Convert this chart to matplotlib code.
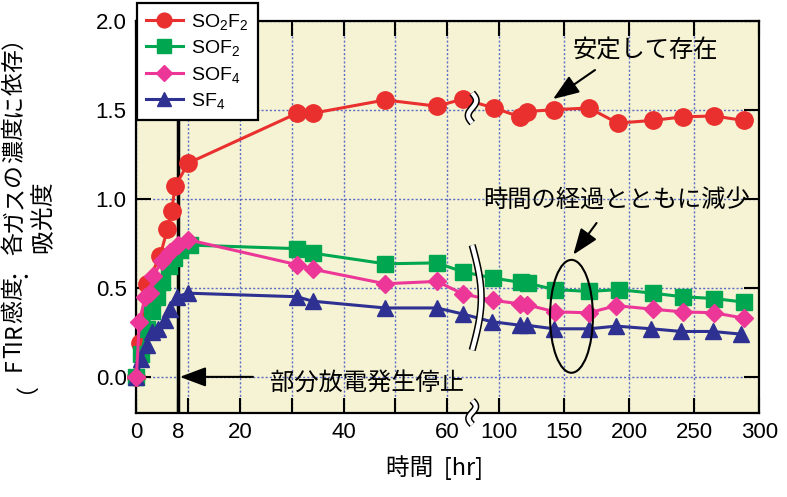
import numpy as np
import matplotlib.pyplot as plt
import matplotlib.transforms as mtransforms
from matplotlib.patches import Ellipse
from matplotlib.font_manager import FontProperties

plt.rcParams['font.family'] = ['Liberation Sans', 'Noto Sans CJK JP', 'DejaVu Sans']
plt.rcParams['mathtext.default'] = 'regular'
jp = 'Noto Sans CJK JP'

# データ（時間 [hr], 吸光度）
t_so2f2 = [0, 0.8, 2, 4.6, 6, 6.8, 7.5, 10, 31, 34, 48, 58, 63,
           96, 116, 121, 142, 169, 191, 218, 241, 265, 288]
a_so2f2 = [0, 0.19, 0.52, 0.68, 0.83, 0.93, 1.07, 1.20, 1.48, 1.48, 1.555, 1.52, 1.56,
           1.51, 1.46, 1.49, 1.50, 1.51, 1.425, 1.44, 1.46, 1.465, 1.44]

t_sof2 = [0, 1, 2, 3, 4, 5, 6.3, 7.2, 8.4, 10.4, 31, 34, 48, 58, 63,
          95, 117, 122, 143, 169, 192, 218, 241, 265, 288]
a_sof2 = [0, 0.13, 0.27, 0.37, 0.45, 0.53, 0.62, 0.67, 0.71, 0.74, 0.72, 0.695, 0.635, 0.64, 0.59,
          0.555, 0.53, 0.525, 0.49, 0.48, 0.49, 0.47, 0.45, 0.44, 0.42]

t_sof4 = [0, 0.6, 1.7, 2.6, 3.3, 4.9, 6.5, 8, 10, 31, 34, 48, 58, 63,
          95, 116, 121, 143, 169, 190, 218, 241, 265, 288]
a_sof4 = [0, 0.31, 0.45, 0.47, 0.565, 0.65, 0.70, 0.74, 0.77, 0.63, 0.605, 0.523, 0.536, 0.466,
          0.43, 0.41, 0.405, 0.365, 0.36, 0.40, 0.38, 0.365, 0.36, 0.33]

t_sf4 = [0, 1, 2, 3, 4.2, 5.5, 6.5, 7.8, 10, 31, 34, 48, 58, 63,
         94, 116, 121, 142, 169, 190, 217, 240, 264, 286]
a_sf4 = [0, 0.1, 0.18, 0.25, 0.27, 0.32, 0.38, 0.45, 0.47, 0.45, 0.425, 0.387, 0.387, 0.353,
         0.31, 0.29, 0.29, 0.27, 0.27, 0.285, 0.27, 0.255, 0.255, 0.24]

tick_pos = [0, 8, 10, 20, 30, 40, 50, 60, 100, 150, 200, 250, 300]
tick_lab = ['0', '8', '', '20', '', '40', '', '60', '100', '150', '200', '250', '300']

# 横軸: 0-65hr と 80-300hr を別の縮尺でつなぐ
XK = [-100, 0, 64.8, 79.3, 300, 500]
PK = [-518.3, 0, 335.9, 336.1, 623, 883]


def fwd(x):
    return np.interp(np.asarray(x, dtype=float), XK, PK)


def inv(p):
    return np.interp(np.asarray(p, dtype=float), PK, XK)


fig = plt.figure(figsize=(7.87, 4.97), dpi=100)
ax = fig.add_axes([136.3/787, 1-412.5/497, 623/787, 391.8/497])
ax.set_facecolor('#f5f3d3')
ax.set_xscale('function', functions=(fwd, inv))
ax.set_xlim(0, 300)
ax.set_ylim(-0.2, 2.0)

ax.set_xticks(tick_pos)
ax.set_xticklabels(tick_lab)
ax.set_yticks([0, 0.5, 1.0, 1.5, 2.0])
ax.set_yticklabels(['0.0', '0.5', '1.0', '1.5', '2.0'])
ax.tick_params(direction='in', length=11, width=1.5, labelsize=16, pad=7,
               top=True, right=True, color='k')
ax.grid(True, color='#5b6cc4', lw=1.0, ls=(0, (1.5, 1.5)))
for s in ax.spines.values():
    s.set_linewidth(1.6)

ax.axvline(8, color='k', lw=2.5, zorder=2.6)

kw = dict(lw=2.2, clip_on=False)
ax.plot(t_so2f2, a_so2f2, color='#ea2f2f', marker='o', ms=12.5, label=r'SO$_2$F$_2$', zorder=3, **kw)
ax.plot(t_sof2, a_sof2, color='#00a650', marker='s', ms=12, label=r'SOF$_2$', zorder=3.1, **kw)
ax.plot(t_sof4, a_sof4, color='#ec3799', marker='D', ms=9.5, label=r'SOF$_4$', zorder=3.3, **kw)
ax.plot(t_sf4, a_sf4, color='#2e3192', marker='^', ms=12, label=r'SF$_4$', zorder=3.2, **kw)

leg = ax.legend(loc='upper left', bbox_to_anchor=(137/787, 1-3/497), bbox_transform=fig.transFigure,
                borderaxespad=0, fancybox=False, framealpha=1, edgecolor='k', fontsize=14,
                handlelength=1.9, handletextpad=0.45, labelspacing=0.33, borderpad=0.45,
                markerscale=0.85)
leg.get_frame().set_linewidth(1.6)
leg.set_zorder(10)

# 注記
arrow = dict(arrowstyle='-|>,head_length=0.8,head_width=0.3', color='k', lw=1.5,
             mutation_scale=20, shrinkA=0, shrinkB=0)
ax.text(212, 1.835, '安定して存在', family=jp, fontsize=17.5, ha='center', va='center')
ax.annotate('', xy=(141.3, 1.56), xytext=(173.6, 1.723), arrowprops=arrow)
ax.text(190.3, 0.994, '時間の経過とともに減少', family=jp, fontsize=17.5, ha='center', va='center')
ax.annotate('', xy=(156.9, 0.686), xytext=(174.8, 0.864), arrowprops=arrow)
ax.add_patch(Ellipse((155.5, 0.34), 33, 0.634, fill=False, ec='k', lw=1.5, zorder=4))
ax.text(44.5, -0.03, '部分放電発生停止', family=jp, fontsize=17.5, ha='center', va='center')
ax.annotate('', xy=(8.4, 0), xytext=(22.5, 0), arrowprops=arrow)


# 軸の省略記号（二重の波線）
def draw_break(xd, yd, h, amp, periods, bend=0.0):
    cx, cy = ax.transData.transform((xd, yd))
    t = np.linspace(0, 1, 60)
    yy = cy + h/2 - h*t
    xx = cx + amp*np.sin(2*np.pi*periods*t) + bend*np.sin(np.pi*t)
    ident = mtransforms.IdentityTransform()
    ax.plot(xx, yy, color='k', lw=5.2, transform=ident, clip_on=False,
            solid_capstyle='butt', zorder=5)
    ax.plot(xx, yy, color='white', lw=3.0, transform=ident, clip_on=False,
            solid_capstyle='butt', zorder=5.1)


draw_break(64.8, -0.2, 24, 3.5, 1.0)
draw_break(64.8, 1.51, 30, 4.0, 1.0)
draw_break(64.8, 0.445, 105, 0, 0, bend=9)


# 縦書き（90度回転）ラベル: 1文字ずつ置いて文字列のずれを防ぐ
def vtext(s, cx_px, cy_img, size):
    prop = FontProperties(family=jp, size=size)
    r = fig.canvas.get_renderer()
    total = r.get_text_width_height_descent(s, prop, ismath=False)[0]
    bx = cx_px + 0.38*size*100/72
    y0 = (497 - cy_img) - total/2
    for i, ch in enumerate(s):
        w = r.get_text_width_height_descent(s[:i], prop, ismath=False)[0] if i else 0
        fig.text(bx/787, (y0 + w)/497, ch, fontproperties=prop, rotation=90,
                 rotation_mode='anchor', ha='left', va='baseline')


vtext('吸光度', 41, 218, 17)
vtext('（FTIR感度：各ガスの濃度に依存）', 12, 210, 16.5)
fig.text(435/787, 1-468/497, '時間  [hr]', family=jp, fontsize=17, ha='center', va='center')

fig.savefig('out.png', dpi=100)
